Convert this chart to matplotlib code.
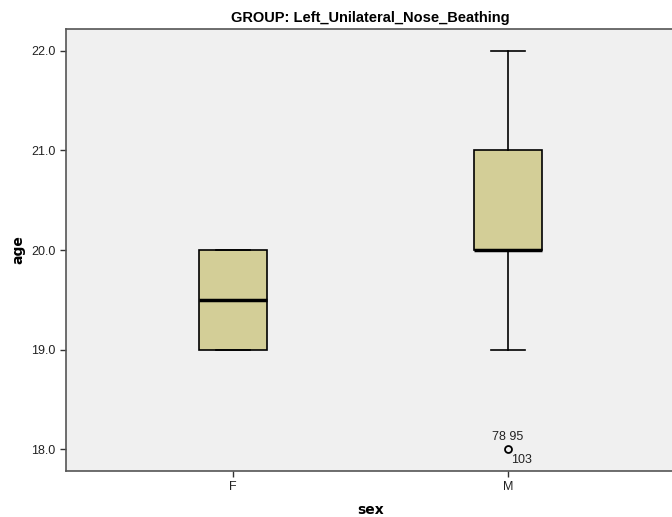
import matplotlib.pyplot as plt

groups = ['F', 'M']
q1 = [19.0, 20.0]
med = [19.5, 20.0]
q3 = [20.0, 21.0]
wlo = [19.0, 19.0]
whi = [20.0, 22.0]
outliers = [[], [18.0]]
outlier_labels = ['78 95', '103']

fig = plt.figure(figsize=(6.72, 5.17), dpi=100)
ax = fig.add_axes([66 / 672, 46 / 517, 609 / 672, 442 / 517])
ax.set_facecolor('#f0f0f0')

stats = []
for i in range(len(groups)):
    stats.append({'q1': q1[i], 'med': med[i], 'q3': q3[i],
                  'whislo': wlo[i], 'whishi': whi[i], 'fliers': outliers[i]})

ax.bxp(stats, positions=[1, 2], widths=0.247, patch_artist=True,
       boxprops=dict(facecolor='#d3ce97', edgecolor='black', linewidth=1.2),
       medianprops=dict(color='black', linewidth=2.5),
       whiskerprops=dict(color='black', linewidth=1.2),
       capprops=dict(color='black', linewidth=1.2),
       capwidths=0.124,
       flierprops=dict(marker='o', markerfacecolor='none', markeredgecolor='black',
                       markersize=5, markeredgewidth=1.3))

# outlier case labels
ax.text(1.998, 18.06, outlier_labels[0], fontsize=9, ha='center', va='bottom',
        color='#222222', family='Liberation Sans')
ax.text(2.01, 17.95, outlier_labels[1], fontsize=9, ha='left', va='top',
        color='#222222', family='Liberation Sans')

ax.set_xlim(0.393, 2.607)
ax.set_ylim(17.779, 22.221)
ax.set_yticks([18, 19, 20, 21, 22])
ax.set_yticklabels(['18.0', '19.0', '20.0', '21.0', '22.0'])
ax.set_xticks([1, 2])
ax.set_xticklabels(groups)
ax.tick_params(labelsize=9, colors='#333333', labelcolor='#222222', length=4, width=1)
for t in ax.get_xticklabels() + ax.get_yticklabels():
    t.set_family('Liberation Sans')

for s in ['left', 'bottom', 'top']:
    ax.spines[s].set_color('#555555')
    ax.spines[s].set_linewidth(1.2)
ax.spines['right'].set_visible(False)

ax.set_ylabel('age', fontsize=10, fontweight='bold', labelpad=4)
ax.set_xlabel('sex', fontsize=10, fontweight='bold', labelpad=7)
ax.set_title('GROUP: Left_Unilateral_Nose_Beathing', fontsize=10.5, fontweight='bold',
             family=['Liberation Sans Narrow', 'Liberation Sans'], pad=5)

fig.savefig('out.png', dpi=100)
